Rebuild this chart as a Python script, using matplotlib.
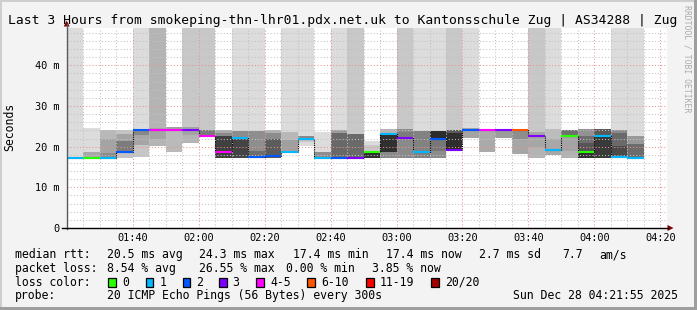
import matplotlib
matplotlib.use("Agg")
import matplotlib.pyplot as plt
from matplotlib.patches import Rectangle, Polygon

W, H, DPI = 697, 310, 100
MONO = "DejaVu Sans Mono"
plt.rcParams["font.family"] = [MONO, "DejaVu Sans"]

# ---------------- data ----------------
times = ["01:20", "01:25", "01:30", "01:35", "01:40", "01:45", "01:50", "01:55",
         "02:00", "02:05", "02:10", "02:15", "02:20", "02:25", "02:30", "02:35",
         "02:40", "02:45", "02:50", "02:55", "03:00", "03:05", "03:10", "03:15",
         "03:20", "03:25", "03:30", "03:35", "03:40", "03:45", "03:50", "03:55",
         "04:00", "04:05", "04:10"]

median = [17.3, 17.3, 17.3, 18.8, 24.0, 24.1, 24.1, 24.1, 22.6, 18.7, 22.2, 17.5,
          17.6, 18.7, 22.0, 17.3, 17.3, 17.3, 18.6, 23.2, 22.1, 18.7, 22.0, 19.1,
          24.0, 24.0, 24.0, 24.0, 22.5, 19.1, 22.5, 18.7, 22.5, 17.5, 17.3]
loss_class = [1, 0, 1, 2, 2, 4, 4, 3, 4, 4, 1, 2, 2, 1, 1, 1, 2, 3, 0, 1, 3, 1, 2, 3,
              2, 4, 3, 5, 3, 1, 0, 0, 1, 1, 1]

# smoke layers (outer -> inner), values in ms, gray level 0-255
smoke1_lo = [17.3, 17.3, 17.3, 17.3, 17.4, 20.2, 18.7, 20.8, 22.4, 17.3, 17.3, 17.3,
             17.3, 18.7, 20.2, 17.3, 17.3, 17.3, 17.3, 17.3, 17.3, 17.3, 17.3, 19.1,
             22.2, 18.7, 22.2, 18.3, 17.3, 18.0, 17.3, 17.3, 17.3, 17.3, 17.3]
smoke1_hi = [49.3, 24.5, 24.1, 24.1, 49.3, 49.3, 24.9, 49.3, 49.3, 24.1, 49.3, 49.3,
             24.1, 49.3, 49.3, 23.6, 49.3, 49.3, 21.4, 24.3, 49.3, 49.3, 49.3, 49.3,
             49.3, 24.3, 24.4, 24.0, 49.3, 49.3, 24.2, 24.3, 24.3, 49.3, 49.3]
smoke1_gray = [220, 220, 184, 196, 220, 180, 186, 200, 200, 170, 220, 220,
               176, 220, 220, 220, 220, 200, 220, 180, 200, 220, 220, 200,
               220, 170, 156, 166, 200, 220, 178, 146, 90, 220, 220]

smoke2_lo = [None, 17.3, 17.3, 18.8, 17.4, 21.8, 23.8, 20.8, 22.6, 17.3, 17.3, 17.3,
             17.3, 18.7, 21.2, 17.3, 17.3, 17.3, 17.3, 17.3, 17.3, 17.3, 17.3, 19.1,
             22.2, None, None, 21.8, 17.3, 18.0, 19.0, 17.3, 17.3, 17.3, 17.3]
smoke2_hi = [None, 18.8, 21.8, 23.1, 24.0, 24.7, 24.9, 24.8, 24.0, 23.4, 23.9, 23.9,
             23.4, 23.7, 22.6, 18.7, 24.2, 23.0, 20.5, 23.2, 24.3, 23.8, 23.9, 24.1,
             24.6, None, None, 24.0, 23.5, 24.3, 24.2, 22.6, 22.5, 24.0, 22.6]
smoke2_gray = [None, 168, 164, 164, 198, 164, 160, 180, 122, 138, 140, 142,
               140, 184, 200, 142, 156, 106, 200, 138, 138, 130, 140, 90,
               164, None, None, 142, 180, 188, 164, 110, 58, 138, 153]

smoke3_lo = [None, None, 17.3, 18.8, 20.4, None, None, 22.8, None, 17.3, 17.3, 17.3,
             17.3, 18.7, 22.0, None, 17.3, None, 17.3, 18.7, 22.1, None, 19.0, 19.1,
             None, None, None, None, 20.0, 18.0, 22.5, 17.3, None, 17.3, 17.3]
smoke3_hi = [None, None, 18.5, 21.5, 24.0, None, None, 24.8, None, 22.6, 22.2, 18.9,
             22.0, 21.6, 22.6, None, 23.4, None, 18.6, 23.0, 23.6, None, 23.9, 23.4,
             None, None, None, None, 23.5, 22.0, 24.0, 21.0, None, 23.4, 20.6]
smoke3_gray = [None, None, 140, 124, 166, None, None, 164, None, 64, 68, 110,
               92, 160, 138, None, 104, None, 48, 48, 124, None, 119, 46,
               None, None, None, None, 166, 168, 112, 85, None, 106, 108]

smoke4_lo = [None, None, None, None, 22.9, None, None, None, None, None, None, None,
             None, None, None, None, None, None, None, None, None, None, 22.0, None,
             None, None, None, None, None, None, None, 17.3, None, 17.5, None]
smoke4_hi = [None, None, None, None, 24.0, None, None, None, None, None, None, None,
             None, None, None, None, None, None, None, None, None, None, 23.9, None,
             None, None, None, None, None, None, None, 18.7, None, 20.2, None]
smoke4_gray = [None, None, None, None, 136, None, None, None, None, None, None, None,
               None, None, None, None, None, None, None, None, None, None, 44, None,
               None, None, None, None, None, None, None, 48, None, 74, None]

loss_colors = ["#26ff00", "#00b8ff", "#0059ff", "#7e00ff", "#ff00ff",
               "#ff5500", "#ff0000", "#a10000"]
loss_labels = ["0", "1", "2", "3", "4-5", "6-10", "11-19", "20/20"]

xtick_labels = ["01:40", "02:00", "02:20", "02:40", "03:00", "03:20", "03:40", "04:00", "04:20"]
ytick_values = [0, 10, 20, 30, 40]
ytick_labels = ["0", "10 m", "20 m", "30 m", "40 m"]

title = "Last 3 Hours from smokeping-thn-lhr01.pdx.net.uk to Kantonsschule Zug | AS34288 | Zug"
rtt_stats = ["median rtt:", "20.5 ms avg", "24.3 ms max", "17.4 ms min",
             "17.4 ms now", "2.7 ms sd", "7.7", "am/s"]
loss_stats = ["packet loss:", "8.54 % avg", "26.55 % max", "0.00 % min", "3.85 % now"]
probe_text = ["probe:", "20 ICMP Echo Pings (56 Bytes) every 300s", "Sun Dec 28 04:21:55 2025"]
end_time = "04:21:55"

# ---------------- helpers ----------------
def to_min(s):
    parts = [int(p) for p in s.split(":")]
    v = parts[0] * 60 + parts[1]
    if len(parts) > 2:
        v += parts[2] / 60.0
    return v

step = 5
t0 = [to_min(s) for s in times]
t1 = [t + step for t in t0]
win_end = to_min(end_time)
win_start = win_end - 180

fig = plt.figure(figsize=(W / DPI, H / DPI), dpi=DPI, facecolor="#f3f3f3")

# plot area in pixel coordinates
PL, PR, PT, PB = 66.7, 666.7, 27.5, 228.0
ax = fig.add_axes([PL / W, 1 - PB / H, (PR - PL) / W, (PB - PT) / H])
ax.set_facecolor("white")
ax.set_xlim(win_start, win_end)
ax.set_ylim(0, 49.3)

for lo_l, hi_l, g_l in [(smoke1_lo, smoke1_hi, smoke1_gray),
                        (smoke2_lo, smoke2_hi, smoke2_gray),
                        (smoke3_lo, smoke3_hi, smoke3_gray),
                        (smoke4_lo, smoke4_hi, smoke4_gray)]:
    for i in range(len(times)):
        if lo_l[i] is None:
            continue
        g = g_l[i] / 255.0
        ax.bar(t0[i], hi_l[i] - lo_l[i], bottom=lo_l[i], width=step, align="edge",
               color=(g, g, g), linewidth=0, antialiased=False, zorder=1)

# median line: dotted black steps + coloured segments
ax.stairs(median, t0 + [t1[-1]], baseline=None, color="#000000", lw=0.8,
          linestyle=(0, (1, 1)), zorder=3)
ax.hlines(median, t0, t1, colors=[loss_colors[c] for c in loss_class], lw=1.5,
          zorder=4)

# grid
ax.set_xticks([to_min(s) for s in xtick_labels])
ax.set_xticklabels(xtick_labels)
ax.set_xticks(list(range(80, 265, 5)), minor=True)
ax.set_yticks(ytick_values)
ax.set_yticklabels(ytick_labels)
ax.set_yticks(list(range(0, 50, 2)), minor=True)
ax.set_axisbelow(False)
ax.grid(True, which="minor", color="#c2c2c2", lw=0.75, linestyle=(0, (1, 2)))
ax.grid(True, which="major", color="#e89494", lw=0.75, linestyle=(0, (1, 2)))
ax.tick_params(which="both", length=0)
ax.tick_params(axis="x", pad=3.4, labelsize=7.4)
ax.tick_params(axis="y", pad=5.0, labelsize=7.4)
for sp in ax.spines.values():
    sp.set_visible(False)

# overlay in pixel coordinates
ov = fig.add_axes([0, 0, 1, 1], zorder=5)
ov.set_xlim(0, W)
ov.set_ylim(H, 0)
ov.axis("off")
ov.patch.set_visible(False)

# frame shading
ov.add_patch(Rectangle((0, 0), W, 2, color="#cecece", lw=0))
ov.add_patch(Rectangle((0, 0), 2, H, color="#cecece", lw=0))
ov.add_patch(Rectangle((0, H - 3), W, 3, color="#9e9e9e", lw=0))
ov.add_patch(Rectangle((W - 3, 0), 3, H, color="#9e9e9e", lw=0))

# axes lines and arrows
ov.plot([PL, PL], [PB + 1, 24], color="#5a5a5a", lw=1.0)
ov.plot([62, 668], [PB, PB], color="#000000", lw=1.0)
ov.add_patch(Polygon([[PL - 3, 26.5], [PL + 3, 26.5], [PL, 20.5]], closed=True,
                     color="#800000", lw=0))
ov.add_patch(Polygon([[667.5, PB - 3], [667.5, PB + 3], [673.5, PB]], closed=True,
                     color="#800000", lw=0))

# texts
ov.text(7.5, 24, title, fontsize=9.4, va="baseline", ha="left", color="black")
ov.text(10, 127, "Seconds", fontsize=8.3, rotation=90, va="center", ha="center")
ov.text(686.5, 59, "RRDTOOL / TOBI OETIKER", fontsize=5.9, rotation=270,
        va="center", ha="center", color="#ababab")

FS = 8.3
rtt_x = [15.3, 106.6, 199.3, 292.6, 386.0, 478.6, 562.6, 599.3]
for x, s in zip(rtt_x, rtt_stats):
    ov.text(x, 258.3, s, fontsize=FS, va="baseline", ha="left")
loss_x = [15.3, 106.6, 199.3, 286.0, 372.0]
for x, s in zip(loss_x, loss_stats):
    ov.text(x, 271.8, s, fontsize=FS, va="baseline", ha="left")
ov.text(15.3, 285.6, "loss color:", fontsize=FS, va="baseline", ha="left")
box_x = [108.3, 145.7, 182.7, 219.3, 256.0, 307.3, 366.0, 431.0]
lab_x = [122.6, 159.3, 196.0, 232.6, 270.0, 321.3, 380.0, 445.0]
for bx, lx, c, lab in zip(box_x, lab_x, loss_colors, loss_labels):
    ov.add_patch(Rectangle((bx, 278.0), 7.6, 8.6, facecolor=c, edgecolor="black", lw=0.9))
    ov.text(lx, 285.6, lab, fontsize=FS, va="baseline", ha="left")
probe_x = [15.3, 106.6, 512.6]
for x, s in zip(probe_x, probe_text):
    ov.text(x, 299.2, s, fontsize=FS, va="baseline", ha="left")

fig.savefig("out.png", dpi=DPI, facecolor=fig.get_facecolor())
